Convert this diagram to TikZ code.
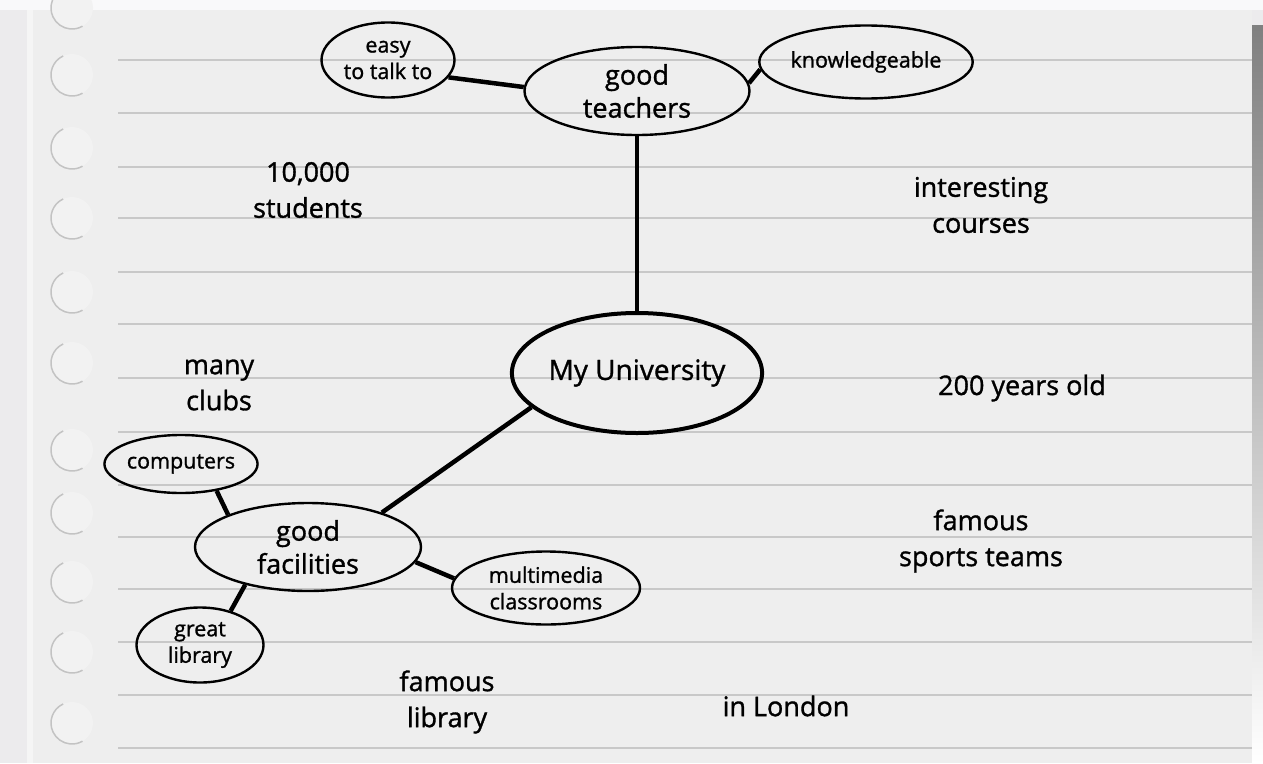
\documentclass[tikz,border=0pt]{standalone}
\usepackage{fontspec}
\setmainfont{Open Sans}[BoldFont={Open Sans},BoldFeatures={FakeBold=1.2}]
\usetikzlibrary{shapes.geometric}
\definecolor{desk}{RGB}{236,235,237}
\definecolor{paper}{RGB}{238,238,238}
\definecolor{rule}{RGB}{200,200,200}
\definecolor{holeedge}{RGB}{195,195,195}
\definecolor{shade}{RGB}{150,150,150}

\begin{document}
\begin{tikzpicture}[x=1pt,y=-1pt,
    bubble/.style={draw,ellipse,line width=2.4pt,inner sep=0pt,align=center},
    big/.style={font=\fontsize{27}{33}\selectfont\bfseries},
    small/.style={font=\fontsize{21.5}{26.5}\selectfont\bfseries},
    note/.style={align=center,font=\fontsize{27}{36}\selectfont\bfseries},
    link/.style={line width=4.5pt}]
    \useasboundingbox (0,0) rectangle (1263,763);
    % paper
    \fill[desk] (0,0) rectangle (1263,763);
    \fill[white!70!desk] (0,0) rectangle (1263,10);
    \fill[shade] (1252,25) rectangle (1263,763);
    \fill[paper] (27,10) rectangle (1252,763);
    \fill[black!4] (27,10) rectangle (33,763);
    \foreach \y in {60,113,167,218,272,324,378,432,485,537,589,642,695,748}
      \draw[rule,line width=1.6pt] (118,\y) -- (1252,\y);
    \foreach \y in {8,75,148,218,292,363,450,513,582,652,723} {
      \fill[black!5] (72,\y) circle (21);
      \draw[holeedge,line width=1.5pt] (72,\y) ++(-115:21) arc[start angle=-115,end angle=-300,radius=21];
    }
    % bubbles
    \node[bubble,small,minimum width=133,minimum height=75] (easy) at (388,60) {easy\\to talk to};
    \node[bubble,big,minimum width=225,minimum height=88] (teach) at (637,91) {good\\teachers};
    \node[bubble,small,minimum width=183,minimum height=73] (know) at (866,62) {knowledgeable};
    \node[bubble,line width=4pt,font=\fontsize{28}{34}\selectfont\bfseries,minimum width=242,minimum height=120] (uni) at (637,373) {My University};
    \node[bubble,big,minimum width=226,minimum height=88] (fac) at (308,547) {good\\facilities};
    \node[bubble,small,minimum width=135,minimum height=58] (comp) at (181,464) {computers};
    \node[bubble,small,minimum width=127,minimum height=75] (lib) at (200,645) {great\\library};
    \node[bubble,small,minimum width=188,minimum height=73] (multi) at (546,588) {multimedia\\classrooms};
    % links
    \draw[link] (easy.344) -- (teach.178);
    \draw[link] (teach.4) -- (know.184);
    \draw[link] (teach.south) -- (uni.north);
    \draw[link] (uni.198) -- (fac.25);
    \draw[link] (comp.323) -- (fac.158);
    \draw[link] (fac.211) -- (lib.48);
    \draw[link] (fac.352) -- (multi.174);
    % loose ideas
    \node[note] (stud) at (308,190) {10,000\\students};
    \node[note] (course) at (981,205) {interesting\\courses};
    \node[note] (clubs) at (219,385) {many\\clubs};
    \node[note] (years) at (1022,388) {200 years old};
    \node[note] (sport) at (981,541) {famous\\sports teams};
    \node[note] (famlib) at (447,702) {famous\\library};
    \node[note] (london) at (786,706) {in London};
\end{tikzpicture}
\end{document}
